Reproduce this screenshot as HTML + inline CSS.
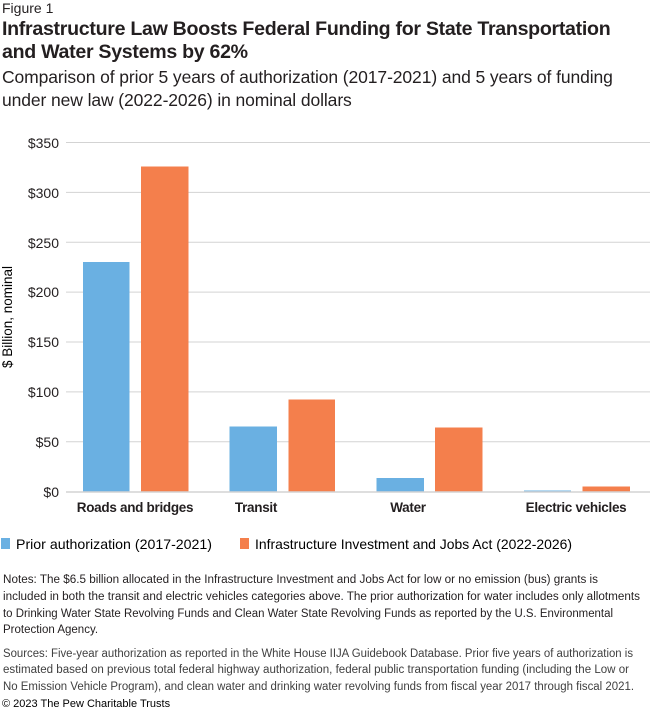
<!DOCTYPE html><html><head><style>
body{margin:0;width:650px;height:711px;background:#fff;font-family:"Liberation Sans",sans-serif;color:#231f20;position:relative;overflow:hidden}
.a{position:absolute;white-space:nowrap}
</style></head><body>
<div class="a" style="left:2px;top:0px;font-size:14px">Figure 1</div>
<div class="a" style="left:2px;top:18px;font-size:19.6px;font-weight:bold;line-height:23px;letter-spacing:-0.3px">Infrastructure Law Boosts Federal Funding for State Transportation<br>and Water Systems by 62%</div>
<div class="a" style="left:2px;top:66px;font-size:17.5px;line-height:23px;letter-spacing:-0.1px">Comparison of prior 5 years of authorization (2017-2021) and 5 years of funding<br>under new law (2022-2026) in nominal dollars</div>
<svg class="a" style="left:0;top:0" width="650" height="711" font-family="Liberation Sans,sans-serif">
<g stroke="#d3d3d3" stroke-width="1">
<line x1="66" x2="650" y1="142.5" y2="142.5"/><line x1="66" x2="650" y1="192.4" y2="192.4"/><line x1="66" x2="650" y1="242.3" y2="242.3"/><line x1="66" x2="650" y1="292.1" y2="292.1"/><line x1="66" x2="650" y1="342" y2="342"/><line x1="66" x2="650" y1="391.9" y2="391.9"/><line x1="66" x2="650" y1="441.8" y2="441.8"/></g>
<g font-size="14" text-anchor="end" fill="#231f20">
<text x="59" y="148">$350</text><text x="59" y="198">$300</text><text x="59" y="248">$250</text><text x="59" y="297">$200</text><text x="59" y="347">$150</text><text x="59" y="397">$100</text><text x="59" y="447">$50</text><text x="59" y="497">$0</text></g>
<text transform="translate(12,317) rotate(-90)" text-anchor="middle" font-size="13.5">$ Billion, nominal</text>
<g fill="#6ab0e2"><rect x="83" y="262" width="46.5" height="229.7"/><rect x="229.5" y="426.5" width="47.5" height="65.2"/><rect x="376.5" y="478" width="47.5" height="13.7"/><rect x="524" y="490.5" width="47" height="1.2"/></g>
<g fill="#f47f4c"><rect x="141" y="166.5" width="47.5" height="325.2"/><rect x="288.5" y="399.5" width="46.5" height="92.2"/><rect x="435" y="427.5" width="47.5" height="64.2"/><rect x="582.5" y="486.5" width="47.5" height="5.2"/></g>
<line x1="66" x2="650" y1="492" y2="492" stroke="#d3d3d3" stroke-width="1.5"/>
<g font-size="13.5" font-weight="bold" text-anchor="middle" fill="#231f20" letter-spacing="-0.3">
<text x="135" y="512">Roads and bridges</text><text x="256" y="512">Transit</text><text x="408" y="512">Water</text><text x="576" y="512">Electric vehicles</text></g>
<rect x="1" y="538" width="9" height="11" fill="#6ab0e2"/><text x="16" y="549" font-size="14" textLength="196" lengthAdjust="spacingAndGlyphs">Prior authorization (2017-2021)</text>
<rect x="240" y="538" width="9" height="11" fill="#f47f4c"/><text x="255" y="549" font-size="14" textLength="317" lengthAdjust="spacingAndGlyphs">Infrastructure Investment and Jobs Act (2022-2026)</text>
<g font-size="11.5" lengthAdjust="spacingAndGlyphs" fill="#231f20">
<text x="3" y="583" textLength="595" lengthAdjust="spacingAndGlyphs">Notes: The $6.5 billion allocated in the Infrastructure Investment and Jobs Act for low or no emission (bus) grants is</text>
<text x="3" y="600" textLength="637" lengthAdjust="spacingAndGlyphs">included in both the transit and electric vehicles categories above. The prior authorization for water includes only allotments</text>
<text x="3" y="617" textLength="610" lengthAdjust="spacingAndGlyphs">to Drinking Water State Revolving Funds and Clean Water State Revolving Funds as reported by the U.S. Environmental</text>
<text x="3" y="633">Protection Agency.</text>
</g>
<g font-size="11.5" fill="#404040">
<text x="3" y="657" textLength="630" lengthAdjust="spacingAndGlyphs">Sources: Five-year authorization as reported in the White House IIJA Guidebook Database. Prior five years of authorization is</text>
<text x="3" y="673" textLength="626" lengthAdjust="spacingAndGlyphs">estimated based on previous total federal highway authorization, federal public transportation funding (including the Low or</text>
<text x="3" y="690" textLength="631" lengthAdjust="spacingAndGlyphs">No Emission Vehicle Program), and clean water and drinking water revolving funds from fiscal year 2017 through fiscal 2021.</text>
</g>
<text x="2" y="707" font-size="11">© 2023 The Pew Charitable Trusts</text>
</svg>
</body></html>
